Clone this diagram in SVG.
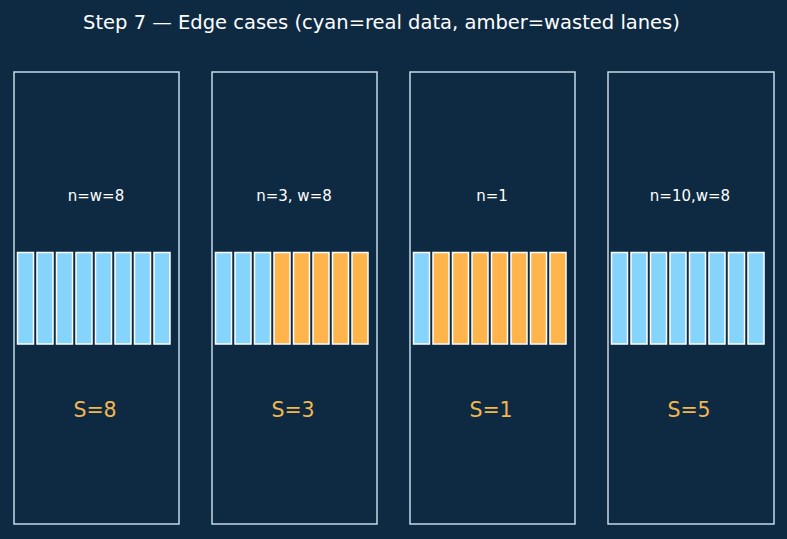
<svg xmlns="http://www.w3.org/2000/svg" width="787" height="539" viewBox="0 0 787 539">
<defs>
<style>
.bg{fill:#0d2a42}
.panel{fill:#0d2a42;stroke:#c5d9e8;stroke-width:1.5}
.c{fill:#84d4fb;stroke:#ffffff;stroke-width:1.5}
.a{fill:#ffb54b;stroke:#ffffff;stroke-width:1.5}
.title{font-family:"DejaVu Sans",sans-serif;font-size:19.5px;fill:#ffffff;text-anchor:middle}
.lbl{font-family:"DejaVu Sans",sans-serif;font-size:15px;fill:#ffffff;text-anchor:middle}
.s{font-family:"DejaVu Sans",sans-serif;font-size:20.5px;fill:#f4b64e;text-anchor:middle}
</style>
</defs>
<rect class="bg" x="0" y="0" width="787" height="539"/>
<text class="title" x="381.5" y="29">Step 7 — Edge cases (cyan=real data, amber=wasted lanes)</text>
<g id="panel1">
<rect class="panel" x="14" y="72" width="165" height="452"/>
<text class="lbl" x="96" y="200.5">n=w=8</text>
<rect class="c" x="17.5" y="252.5" width="16" height="91.5"/>
<rect class="c" x="37" y="252.5" width="16" height="91.5"/>
<rect class="c" x="56.5" y="252.5" width="16" height="91.5"/>
<rect class="c" x="76" y="252.5" width="16" height="91.5"/>
<rect class="c" x="95.5" y="252.5" width="16" height="91.5"/>
<rect class="c" x="115" y="252.5" width="16" height="91.5"/>
<rect class="c" x="134.5" y="252.5" width="16" height="91.5"/>
<rect class="c" x="154" y="252.5" width="16" height="91.5"/>
<text class="s" x="95" y="417">S=8</text>
</g>
<g id="panel2">
<rect class="panel" x="212" y="72" width="165" height="452"/>
<text class="lbl" x="294" y="200.5">n=3, w=8</text>
<rect class="c" x="215.5" y="252.5" width="16" height="91.5"/>
<rect class="c" x="235" y="252.5" width="16" height="91.5"/>
<rect class="c" x="254.5" y="252.5" width="16" height="91.5"/>
<rect class="a" x="274" y="252.5" width="16" height="91.5"/>
<rect class="a" x="293.5" y="252.5" width="16" height="91.5"/>
<rect class="a" x="313" y="252.5" width="16" height="91.5"/>
<rect class="a" x="332.5" y="252.5" width="16" height="91.5"/>
<rect class="a" x="352" y="252.5" width="16" height="91.5"/>
<text class="s" x="293" y="417">S=3</text>
</g>
<g id="panel3">
<rect class="panel" x="410" y="72" width="165" height="452"/>
<text class="lbl" x="492" y="200.5">n=1</text>
<rect class="c" x="413.5" y="252.5" width="16" height="91.5"/>
<rect class="a" x="433" y="252.5" width="16" height="91.5"/>
<rect class="a" x="452.5" y="252.5" width="16" height="91.5"/>
<rect class="a" x="472" y="252.5" width="16" height="91.5"/>
<rect class="a" x="491.5" y="252.5" width="16" height="91.5"/>
<rect class="a" x="511" y="252.5" width="16" height="91.5"/>
<rect class="a" x="530.5" y="252.5" width="16" height="91.5"/>
<rect class="a" x="550" y="252.5" width="16" height="91.5"/>
<text class="s" x="491" y="417">S=1</text>
</g>
<g id="panel4">
<rect class="panel" x="608" y="72" width="166" height="452"/>
<text class="lbl" x="690" y="200.5">n=10,w=8</text>
<rect class="c" x="611.5" y="252.5" width="16" height="91.5"/>
<rect class="c" x="631" y="252.5" width="16" height="91.5"/>
<rect class="c" x="650.5" y="252.5" width="16" height="91.5"/>
<rect class="c" x="670" y="252.5" width="16" height="91.5"/>
<rect class="c" x="689.5" y="252.5" width="16" height="91.5"/>
<rect class="c" x="709" y="252.5" width="16" height="91.5"/>
<rect class="c" x="728.5" y="252.5" width="16" height="91.5"/>
<rect class="c" x="748" y="252.5" width="16" height="91.5"/>
<text class="s" x="689" y="417">S=5</text>
</g>
<g id="connectors"></g>
</svg>
